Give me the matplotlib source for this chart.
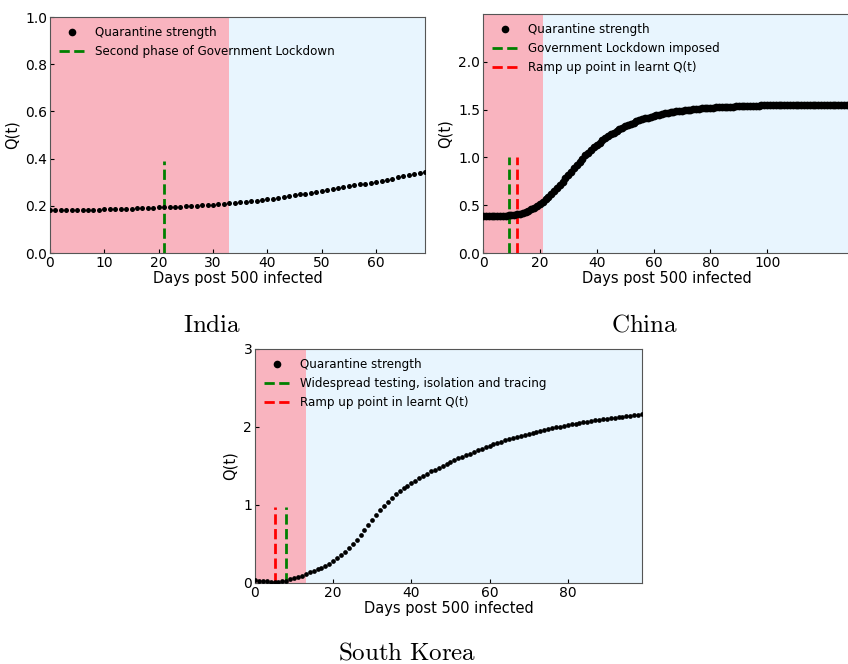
import matplotlib
matplotlib.use("Agg")
import numpy as np
import matplotlib.pyplot as plt

plt.rcParams["mathtext.fontset"] = "cm"

# India: daily learnt Q(t)
india_q = [
    0.182, 0.182, 0.182, 0.182, 0.183, 0.183, 0.183, 0.184, 0.184, 0.184,
    0.185, 0.185, 0.186, 0.186, 0.187, 0.188, 0.189, 0.190, 0.191, 0.192,
    0.193, 0.194, 0.195, 0.196, 0.197, 0.198, 0.199, 0.200, 0.202, 0.203,
    0.205, 0.206, 0.208, 0.210, 0.212, 0.215, 0.217, 0.219, 0.222, 0.224,
    0.227, 0.230, 0.233, 0.237, 0.240, 0.244, 0.248, 0.252, 0.256, 0.260,
    0.264, 0.268, 0.272, 0.275, 0.279, 0.283, 0.287, 0.291, 0.294, 0.298,
    0.302, 0.306, 0.311, 0.315, 0.320, 0.325, 0.330, 0.335, 0.340, 0.345,
]

# China: daily learnt Q(t)
china_q = [
    0.385, 0.385, 0.385, 0.386, 0.386, 0.387, 0.388, 0.389, 0.391, 0.393,
    0.396, 0.400, 0.405, 0.412, 0.420, 0.430, 0.443, 0.457, 0.474, 0.493,
    0.514, 0.537, 0.562, 0.589, 0.618, 0.648, 0.680, 0.713, 0.747, 0.782,
    0.817, 0.852, 0.887, 0.921, 0.954, 0.986, 1.020, 1.050, 1.080, 1.105,
    1.130, 1.155, 1.178, 1.200, 1.220, 1.240, 1.259, 1.277, 1.294, 1.310,
    1.325, 1.339, 1.352, 1.364, 1.376, 1.387, 1.397, 1.407, 1.416, 1.424,
    1.432, 1.440, 1.447, 1.454, 1.460, 1.466, 1.471, 1.476, 1.481, 1.485,
    1.489, 1.493, 1.497, 1.500, 1.503, 1.506, 1.509, 1.512, 1.514, 1.516,
    1.518, 1.520, 1.522, 1.524, 1.526, 1.528, 1.529, 1.531, 1.532, 1.534,
    1.535, 1.536, 1.537, 1.538, 1.539, 1.540, 1.541, 1.542, 1.543, 1.543,
    1.544, 1.544, 1.545, 1.545, 1.546, 1.546, 1.547, 1.547, 1.547, 1.548,
    1.548, 1.548, 1.549, 1.549, 1.549, 1.550, 1.550, 1.550, 1.550, 1.551,
    1.551, 1.551, 1.551, 1.551, 1.552, 1.552, 1.552, 1.552, 1.552, 1.552,
]

# South Korea: daily learnt Q(t)
korea_q = [
    0.035, 0.032, 0.028, 0.022, 0.015, 0.010, 0.012, 0.020, 0.030, 0.045,
    0.060, 0.075, 0.095, 0.115, 0.135, 0.155, 0.175, 0.198, 0.222, 0.250,
    0.280, 0.315, 0.355, 0.400, 0.445, 0.500, 0.555, 0.615, 0.680, 0.745,
    0.810, 0.870, 0.930, 0.990, 1.040, 1.090, 1.140, 1.180, 1.215, 1.250,
    1.280, 1.310, 1.340, 1.370, 1.400, 1.430, 1.455, 1.480, 1.505, 1.530,
    1.555, 1.577, 1.599, 1.620, 1.640, 1.660, 1.680, 1.700, 1.720, 1.740,
    1.760, 1.778, 1.795, 1.812, 1.828, 1.843, 1.858, 1.873, 1.888, 1.902,
    1.915, 1.928, 1.940, 1.952, 1.963, 1.974, 1.985, 1.995, 2.005, 2.015,
    2.025, 2.034, 2.043, 2.052, 2.060, 2.068, 2.076, 2.084, 2.091, 2.098,
    2.105, 2.112, 2.119, 2.126, 2.133, 2.140, 2.147, 2.154, 2.160, 2.166,
]

PINK = "#F9B4BF"
BLUE = "#E8F5FE"

fig = plt.figure(figsize=(8.48, 6.64), dpi=100)


def add_panel(rect, q, xmax, ymax, split, events, ms, yticks, yfmt, xticks, caption, cap_xy):
    ax = fig.add_axes(rect)
    days = np.arange(len(q))
    ax.axvspan(0, split, color=PINK, lw=0, zorder=0)
    ax.axvspan(split, xmax + 5, color=BLUE, lw=0, zorder=0)
    ax.plot(days, q, "o", color="black", ms=ms, mew=0, label="Quarantine strength", zorder=3)
    for x, top, col, lab in events:
        ax.plot([x, x], [0, top], "--", color=col, lw=2, label=lab, zorder=2)
    ax.set_xlim(0, xmax)
    ax.set_ylim(0, ymax)
    ax.set_yticks(yticks)
    ax.set_yticklabels([yfmt.format(v) for v in yticks])
    ax.set_xticks(xticks)
    ax.tick_params(direction="in", labelsize=10, length=3, pad=2)
    ax.set_xlabel("Days post 500 infected", fontsize=10.5, labelpad=1)
    ax.set_ylabel("Q(t)", fontsize=10.5, labelpad=4)
    for s in ax.spines.values():
        s.set_color("#555555")
    leg = ax.legend(loc="upper left", frameon=False, fontsize=8.6,
                    handlelength=2.2, borderaxespad=0.35, labelspacing=0.5)
    leg.legend_handles[0].set_markersize(5.5)
    fig.text(cap_xy[0] / 848, 1 - cap_xy[1] / 664, caption, fontsize=18,
             ha="center", va="center")
    return ax


add_panel([50 / 848, 1 - 253 / 664, 375 / 848, 236 / 664], india_q, 69, 1.0, 33,
          [(21, 0.39, "green", "Second phase of Government Lockdown")],
          3.6, [0, 0.2, 0.4, 0.6, 0.8, 1.0], "{:.1f}", [0, 10, 20, 30, 40, 50, 60],
          r"$\mathrm{India}$", (212, 325))

ax_c = add_panel([483 / 848, 1 - 253 / 664, 368 / 848, 239 / 664], china_q, 129.5, 2.5, 21,
                 [(9, 1.0, "green", "Government Lockdown imposed"),
                  (12, 1.0, "red", "Ramp up point in learnt Q(t)")],
                 5.6, [0, 0.5, 1.0, 1.5, 2.0], "{:.1f}", [0, 20, 40, 60, 80, 100],
                 r"$\mathrm{China}$", (645, 325))
ax_c.spines["right"].set_visible(False)

add_panel([255 / 848, 1 - 583 / 664, 387 / 848, 234 / 664], korea_q, 99, 3, 13,
          [(8, 0.97, "green", "Widespread testing, isolation and tracing"),
           (5, 0.97, "red", "Ramp up point in learnt Q(t)")],
          3.4, [0, 1, 2, 3], "{:.0f}", [0, 20, 40, 60, 80],
          r"$\mathrm{South\ Korea}$", (407, 652))

fig.savefig("out.png", dpi=100)
